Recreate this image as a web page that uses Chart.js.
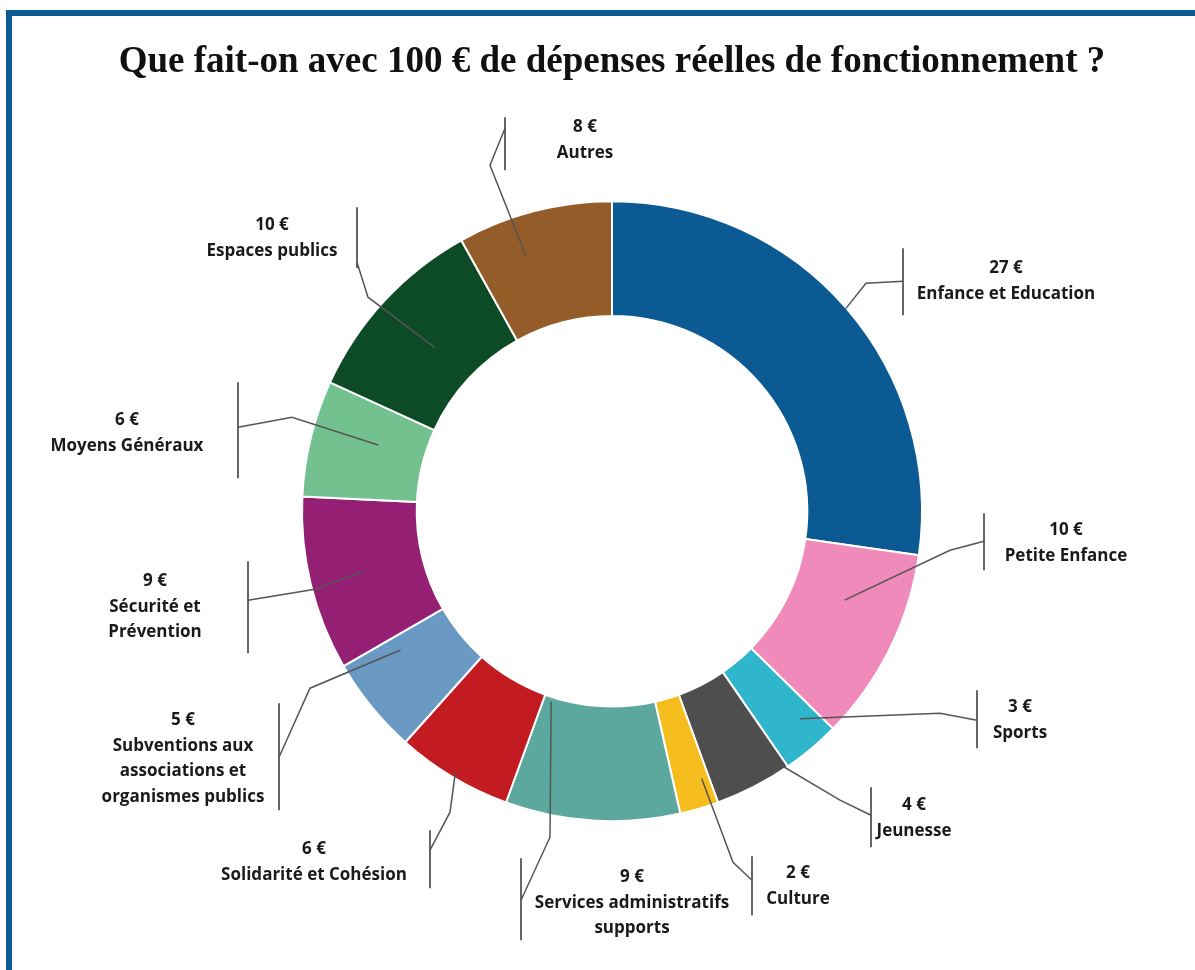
<!DOCTYPE html>
<html lang="fr">
<head>
<meta charset="utf-8">
<title>Dépenses réelles de fonctionnement</title>
<script src="https://cdn.jsdelivr.net/npm/chart.js@4/dist/chart.umd.min.js"></script>
<style>
  html, body { margin: 0; padding: 0; background: #fff; }
  #wrap { position: relative; width: 1195px; height: 970px; }
  #frame {
    position: absolute; left: 6px; top: 10px; right: 0; bottom: 0;
    border-top: 6px solid #0b5c94; border-left: 6px solid #0b5c94;
    pointer-events: none;
  }
</style>
</head>
<body>
<div id="wrap">
  <canvas id="chart" width="1195" height="970"></canvas>
  <div id="frame"></div>
</div>
<script>
// categories, clockwise from the top
const categories = [
  'Enfance et Education',
  'Petite Enfance',
  'Sports',
  'Jeunesse',
  'Culture',
  ['Services administratifs', 'supports'],
  'Solidarité et Cohésion',
  ['Subventions aux', 'associations et', 'organismes publics'],
  ['Sécurité et', 'Prévention'],
  'Moyens Généraux',
  'Espaces publics',
  'Autres'
];
// euros out of 100
const amounts = [27, 10, 3, 4, 2, 9, 6, 5, 9, 6, 10, 8];

const colors = [
  '#0b5a94', '#ef8aba', '#2fb6cc', '#4e4e4e', '#f6bd1e', '#5ca89f',
  '#c21b22', '#6a9ac3', '#941f73', '#74c190', '#0d4a26', '#945c28'
];

// label placement, offsets from the doughnut centre (px)
// t = text centre / first line, bar = vertical tick, a = tick anchor, e = elbow,
// reach = leader end radius, at = position along the slice (0..1)
const labelLayout = [
  { t: [394, -243], bar: [291, -263, -196], a: [291, -230], e: [254, -228], reach: 309, at: 0.5 },
  { t: [454, 19],   bar: [372, 2, 59],      a: [372, 30],   e: [338, 39],   reach: 249, at: 0.35 },
  { t: [408, 196],  bar: [365, 179, 237],   a: [365, 209],  e: [328, 202],  reach: 280, at: 0.3 },
  { t: [302, 294],  bar: [259, 276, 336],   a: [259, 304],  e: [228, 289],  reach: 307, at: 0.05 },
  { t: [186, 362],  bar: [140, 345, 404],   a: [140, 369],  e: [121, 351],  reach: 282, at: 0.2 },
  { t: [20, 366],   bar: [-91, 347, 429],   a: [-91, 389],  e: [-62, 326],  reach: 200, at: 0.93 },
  { t: [-298, 338], bar: [-182, 319, 377],  a: [-182, 339], e: [-162, 301], reach: 305, at: 0.5 },
  { t: [-429, 209], bar: [-333, 192, 299],  a: [-333, 246], e: [-302, 177], reach: 253, at: 0.82 },
  { t: [-457, 70],  bar: [-364, 50, 142],   a: [-364, 89],  e: [-297, 78],  reach: 255, at: 0.5 },
  { t: [-485, -91], bar: [-374, -129, -33], a: [-374, -84], e: [-320, -94], reach: 243, at: 0.6 },
  { t: [-340, -286],bar: [-255, -304, -243],a: [-255, -249],e: [-244, -214],reach: 241, at: 0.5 },
  { t: [-27, -384], bar: [-107, -394, -341],a: [-107, -383],e: [-122, -346],reach: 268, at: 0.36 }
];

const calloutPlugin = {
  id: 'callouts',
  afterDatasetsDraw(chart) {
    const ctx = chart.ctx;
    const arcs = chart.getDatasetMeta(0).data;
    ctx.save();
    arcs.forEach((arc, i) => {
      const L = labelLayout[i];
      const { x: cx, y: cy, startAngle, endAngle } = arc.getProps(['x', 'y', 'startAngle', 'endAngle'], true);
      const ang = startAngle + (endAngle - startAngle) * L.at;
      const ex = cx + Math.cos(ang) * L.reach;
      const ey = cy + Math.sin(ang) * L.reach;

      // vertical tick
      ctx.strokeStyle = '#666';
      ctx.lineWidth = 2;
      ctx.beginPath();
      ctx.moveTo(cx + L.bar[0], cy + L.bar[1]);
      ctx.lineTo(cx + L.bar[0], cy + L.bar[2]);
      ctx.stroke();

      // leader
      ctx.strokeStyle = '#555';
      ctx.lineWidth = 1.5;
      ctx.beginPath();
      ctx.moveTo(cx + L.a[0], cy + L.a[1]);
      ctx.lineTo(cx + L.e[0], cy + L.e[1]);
      ctx.lineTo(ex, ey);
      ctx.stroke();

      // text
      const name = chart.data.labels[i];
      const lines = [amounts[i] + ' €'].concat(Array.isArray(name) ? name : [name]);
      ctx.fillStyle = '#1a1a1a';
      ctx.font = '700 17px "Open Sans"';
      ctx.textAlign = 'center';
      ctx.textBaseline = 'middle';
      lines.forEach((ln, k) => {
        ctx.fillText(ln, cx + L.t[0], cy + L.t[1] + k * 25.5);
      });
    });
    ctx.restore();
  }
};

new Chart(document.getElementById('chart'), {
  type: 'doughnut',
  data: {
    labels: categories,
    datasets: [{
      data: amounts,
      backgroundColor: colors,
      borderColor: '#ffffff',
      borderWidth: 2
    }]
  },
  options: {
    responsive: false,
    animation: false,
    events: [],
    radius: 310,
    cutout: '63%',
    layout: { padding: { left: 29, right: 0, top: 0, bottom: 32 } },
    plugins: {
      legend: { display: false },
      tooltip: { enabled: false },
      title: {
        display: true,
        text: 'Que fait-on avec 100 € de dépenses réelles de fonctionnement ?',
        color: '#111',
        font: { family: '"Liberation Serif", "Times New Roman", serif', size: 37, weight: 'bold', lineHeight: 1.2 },
        padding: { top: 40, bottom: 0 }
      }
    }
  },
  plugins: [calloutPlugin]
});
</script>
</body>
</html>
